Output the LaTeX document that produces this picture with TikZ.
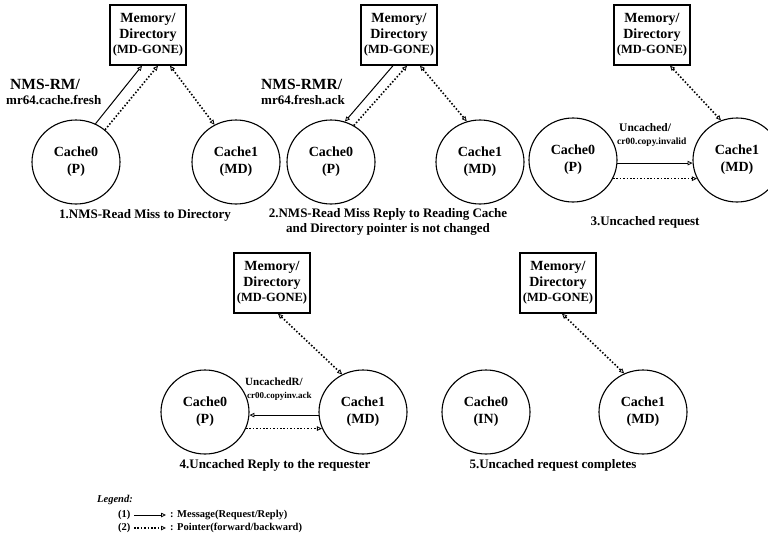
\documentclass[tikz,border=0pt]{standalone}
\usepackage{fontspec}
\setmainfont{Liberation Serif}
\usetikzlibrary{arrows.meta,shapes.geometric,calc}
\begin{document}
\begin{tikzpicture}[x=1pt,y=-1pt,
  >={Triangle[open,length=5pt,width=4.5pt,line width=0.8pt]},
  mbox/.style={draw,line width=1.4pt,minimum width=76pt,minimum height=60pt,inner sep=1pt,align=center,font=\fontsize{14}{15.5}\selectfont\bfseries},
  cache/.style={ellipse,draw,line width=1.1pt,minimum width=88pt,minimum height=84pt,inner sep=0pt,align=center,font=\fontsize{14}{17}\selectfont\bfseries},
  msg/.style={line width=1pt},
  ptr/.style={line width=1.6pt,dash pattern=on 1.5pt off 1.9pt},
  lblbig/.style={anchor=west,inner sep=0pt,font=\fontsize{15.5}{17}\selectfont\bfseries},
  lblsmall/.style={anchor=west,inner sep=0pt,font=\fontsize{13}{14}\selectfont\bfseries},
  lblmid/.style={anchor=west,inner sep=0pt,font=\fontsize{11.5}{13}\selectfont\bfseries},
  lbltiny/.style={anchor=west,inner sep=0pt,font=\fontsize{9.5}{11}\selectfont\bfseries},
  caption/.style={inner sep=0pt,align=center,font=\fontsize{13}{15}\selectfont\bfseries},
  legend/.style={anchor=west,inner sep=0pt,font=\fontsize{10.5}{12}\selectfont\bfseries},
]
\fill[white] (0,0) rectangle (768,549);
\useasboundingbox (0,0) rectangle (768,549);

\newcommand{\memtext}{Memory/\\Directory\\{\fontsize{12.5}{14}\selectfont(MD-GONE)}}

% ---- 1. read miss to directory
\node[mbox] (m1) at (148,35) {\memtext};
\node[cache] (a1) at (76,162) {Cache0\\(P)};
\node[cache] (b1) at (236,162) {Cache1\\(MD)};
\draw[msg,->] (a1.63) -- ($(m1.south)+(-6,0)$);
\draw[ptr,->] (a1.48) -- ($(m1.south)+(10,0)$);
\draw[ptr,<->] ($(m1.south)+(22,0)$) -- (b1.120);
\node[lblbig] (l1a) at (10,84) {NMS-RM/};
\node[lblsmall] (l1b) at (6,100) {mr64.cache.fresh};
\node[caption] (t1) at (145,215) {1.NMS-Read Miss to Directory};

% ---- 2. read miss reply
\node[mbox] (m2) at (399,35) {\memtext};
\node[cache] (a2) at (331,162) {Cache0\\(P)};
\node[cache] (b2) at (480,162) {Cache1\\(MD)};
\draw[msg,->] ($(m2.south)+(-6,0)$) -- (a2.71);
\draw[ptr,->] (a2.58) -- ($(m2.south)+(8,0)$);
\draw[ptr,<->] ($(m2.south)+(21,0)$) -- (b2.108);
\node[lblbig] (l2a) at (261,84) {NMS-RMR/};
\node[lblsmall] (l2b) at (261,100) {mr64.fresh.ack};
\node[caption] (t2) at (388,222) {2.NMS-Read Miss Reply to Reading Cache\\and Directory pointer is not changed};

% ---- 3. uncached request
\node[mbox] (m3) at (652,35) {\memtext};
\node[cache] (a3) at (573,160) {Cache0\\(P)};
\node[cache] (b3) at (737,160) {Cache1\\(MD)};
\draw[msg,->] (a3.-4) -- (b3.184);
\draw[ptr,->] (a3.-25) -- (b3.205);
\draw[ptr,<->] ($(m3.south)+(18,0)$) -- (b3.112);
\node[lblmid] (l3a) at (619,128) {Uncached/};
\node[lbltiny] (l3b) at (617,142) {cr00.copy.invalid};
\node[caption] (t3) at (645,222) {3.Uncached request};

% ---- 4. uncached reply
\node[mbox] (m4) at (272,283) {\memtext};
\node[cache] (a4) at (205,412) {Cache0\\(P)};
\node[cache] (b4) at (363,412) {Cache1\\(MD)};
\draw[msg,->] (b4.184) -- (a4.-4);
\draw[ptr,->] (a4.-22) -- (b4.202);
\draw[ptr,<->] ($(m4.south)+(6,0)$) -- (b4.119);
\node[anchor=west,inner sep=0pt,font=\fontsize{11}{12}\selectfont\bfseries] (l4a) at (245,382) {UncachedR/};
\node[anchor=west,inner sep=0pt,font=\fontsize{9}{10}\selectfont\bfseries] (l4b) at (247,396) {cr00.copyinv.ack};
\node[caption] (t4) at (275,465) {4.Uncached Reply to the requester};

% ---- 5. uncached request completes
\node[mbox] (m5) at (558,283) {\memtext};
\node[cache] (a5) at (486,412) {Cache0\\(IN)};
\node[cache] (b5) at (643,412) {Cache1\\(MD)};
\draw[ptr,<->] ($(m5.south)+(4,0)$) -- (b5.116);
\node[caption] (t5) at (553,465) {5.Uncached request completes};

% ---- legend
\node[legend,font=\fontsize{10.5}{12}\selectfont\bfseries\itshape] (lg) at (97,500) {Legend:};
\node[legend] (k1) at (118,515) {(1)};
\coordinate (k1s) at (134,515);
\coordinate (k1e) at (166,515);
\draw[msg,->] (k1s) -- (k1e);
\node[legend] (k1t) at (170,515) {: Message(Request/Reply)};
\node[legend] (k2) at (118,528) {(2)};
\coordinate (k2s) at (134,528);
\coordinate (k2e) at (166,528);
\draw[ptr,->] (k2s) -- (k2e);
\node[legend] (k2t) at (170,528) {: Pointer(forward/backward)};
\end{tikzpicture}
\end{document}
